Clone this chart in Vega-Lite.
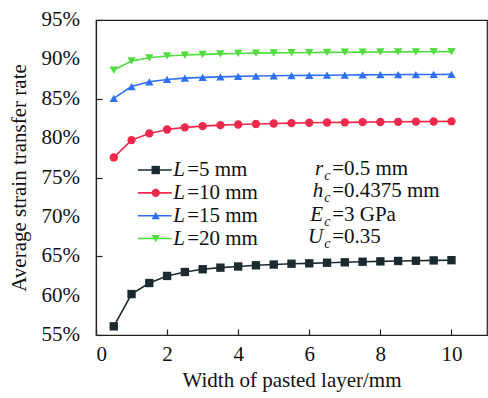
{
  "$schema": "https://vega.github.io/schema/vega-lite/v6.json",
  "width": 391,
  "height": 315,
  "autosize": {"type": "none"},
  "padding": {"left": 96, "top": 20, "right": 1, "bottom": 63},
  "background": "white",
  "config": {
    "font": "Liberation Serif",
    "view": {"stroke": "#222", "strokeWidth": 1.2},
    "axis": {"grid": false, "domainColor": "#222", "domainWidth": 1.2, "tickColor": "#222", "tickWidth": 1.2,
      "labelFont": "Liberation Serif", "titleFont": "Liberation Serif", "labelFontSize": 21, "titleFontSize": 21,
      "labelColor": "#111", "titleColor": "#111", "titleFontWeight": "normal", "labelOverlap": false}
  },
  "datasets": {
    "series": [
      {"series": "L=5 mm", "x": 0.5, "y": 56.1}, {"series": "L=5 mm", "x": 1.0, "y": 60.2}, {"series": "L=5 mm", "x": 1.5, "y": 61.6}, {"series": "L=5 mm", "x": 2.0, "y": 62.5}, {"series": "L=5 mm", "x": 2.5, "y": 63.0}, {"series": "L=5 mm", "x": 3.0, "y": 63.35}, {"series": "L=5 mm", "x": 3.5, "y": 63.55}, {"series": "L=5 mm", "x": 4.0, "y": 63.7}, {"series": "L=5 mm", "x": 4.5, "y": 63.85}, {"series": "L=5 mm", "x": 5.0, "y": 63.95}, {"series": "L=5 mm", "x": 5.5, "y": 64.05}, {"series": "L=5 mm", "x": 6.0, "y": 64.1}, {"series": "L=5 mm", "x": 6.5, "y": 64.18}, {"series": "L=5 mm", "x": 7.0, "y": 64.23}, {"series": "L=5 mm", "x": 7.5, "y": 64.3}, {"series": "L=5 mm", "x": 8.0, "y": 64.35}, {"series": "L=5 mm", "x": 8.5, "y": 64.4}, {"series": "L=5 mm", "x": 9.0, "y": 64.43}, {"series": "L=5 mm", "x": 9.5, "y": 64.47}, {"series": "L=5 mm", "x": 10.0, "y": 64.5},
      {"series": "L=10 mm", "x": 0.5, "y": 77.55}, {"series": "L=10 mm", "x": 1.0, "y": 79.75}, {"series": "L=10 mm", "x": 1.5, "y": 80.6}, {"series": "L=10 mm", "x": 2.0, "y": 81.1}, {"series": "L=10 mm", "x": 2.5, "y": 81.37}, {"series": "L=10 mm", "x": 3.0, "y": 81.52}, {"series": "L=10 mm", "x": 3.5, "y": 81.65}, {"series": "L=10 mm", "x": 4.0, "y": 81.73}, {"series": "L=10 mm", "x": 4.5, "y": 81.8}, {"series": "L=10 mm", "x": 5.0, "y": 81.86}, {"series": "L=10 mm", "x": 5.5, "y": 81.9}, {"series": "L=10 mm", "x": 6.0, "y": 81.95}, {"series": "L=10 mm", "x": 6.5, "y": 81.98}, {"series": "L=10 mm", "x": 7.0, "y": 82.0}, {"series": "L=10 mm", "x": 7.5, "y": 82.03}, {"series": "L=10 mm", "x": 8.0, "y": 82.05}, {"series": "L=10 mm", "x": 8.5, "y": 82.07}, {"series": "L=10 mm", "x": 9.0, "y": 82.09}, {"series": "L=10 mm", "x": 9.5, "y": 82.11}, {"series": "L=10 mm", "x": 10.0, "y": 82.13},
      {"series": "L=15 mm", "x": 0.5, "y": 85.05}, {"series": "L=15 mm", "x": 1.0, "y": 86.55}, {"series": "L=15 mm", "x": 1.5, "y": 87.15}, {"series": "L=15 mm", "x": 2.0, "y": 87.45}, {"series": "L=15 mm", "x": 2.5, "y": 87.62}, {"series": "L=15 mm", "x": 3.0, "y": 87.72}, {"series": "L=15 mm", "x": 3.5, "y": 87.78}, {"series": "L=15 mm", "x": 4.0, "y": 87.84}, {"series": "L=15 mm", "x": 4.5, "y": 87.88}, {"series": "L=15 mm", "x": 5.0, "y": 87.92}, {"series": "L=15 mm", "x": 5.5, "y": 87.95}, {"series": "L=15 mm", "x": 6.0, "y": 87.97}, {"series": "L=15 mm", "x": 6.5, "y": 87.99}, {"series": "L=15 mm", "x": 7.0, "y": 88.01}, {"series": "L=15 mm", "x": 7.5, "y": 88.03}, {"series": "L=15 mm", "x": 8.0, "y": 88.05}, {"series": "L=15 mm", "x": 8.5, "y": 88.06}, {"series": "L=15 mm", "x": 9.0, "y": 88.07}, {"series": "L=15 mm", "x": 9.5, "y": 88.08}, {"series": "L=15 mm", "x": 10.0, "y": 88.1},
      {"series": "L=20 mm", "x": 0.5, "y": 88.65}, {"series": "L=20 mm", "x": 1.0, "y": 89.8}, {"series": "L=20 mm", "x": 1.5, "y": 90.2}, {"series": "L=20 mm", "x": 2.0, "y": 90.43}, {"series": "L=20 mm", "x": 2.5, "y": 90.55}, {"series": "L=20 mm", "x": 3.0, "y": 90.64}, {"series": "L=20 mm", "x": 3.5, "y": 90.7}, {"series": "L=20 mm", "x": 4.0, "y": 90.75}, {"series": "L=20 mm", "x": 4.5, "y": 90.79}, {"series": "L=20 mm", "x": 5.0, "y": 90.82}, {"series": "L=20 mm", "x": 5.5, "y": 90.85}, {"series": "L=20 mm", "x": 6.0, "y": 90.87}, {"series": "L=20 mm", "x": 6.5, "y": 90.89}, {"series": "L=20 mm", "x": 7.0, "y": 90.91}, {"series": "L=20 mm", "x": 7.5, "y": 90.92}, {"series": "L=20 mm", "x": 8.0, "y": 90.94}, {"series": "L=20 mm", "x": 8.5, "y": 90.95}, {"series": "L=20 mm", "x": 9.0, "y": 90.96}, {"series": "L=20 mm", "x": 9.5, "y": 90.97}, {"series": "L=20 mm", "x": 10.0, "y": 90.98}
    ],
    "yticks": [
      {"v": 55, "lab": "55%"}, {"v": 60, "lab": "60%"}, {"v": 65, "lab": "65%"}, {"v": 70, "lab": "70%"}, {"v": 75, "lab": "75%"},
      {"v": 80, "lab": "80%"}, {"v": 85, "lab": "85%"}, {"v": 90, "lab": "90%"}, {"v": 95, "lab": "95%"}
    ],
    "legend": [
      {"series": "L=5 mm", "rest": "=5 mm", "ly": 75.95},
      {"series": "L=10 mm", "rest": "=10 mm", "ly": 73.05},
      {"series": "L=15 mm", "rest": "=15 mm", "ly": 70.15},
      {"series": "L=20 mm", "rest": "=20 mm", "ly": 67.25}
    ],
    "notes": [
      {"letter": "r", "sub": "c", "rest": "=0.5 mm", "ny": 76.08},
      {"letter": "h", "sub": "c", "rest": "=0.4375 mm", "ny": 73.29},
      {"letter": "E", "sub": "c", "rest": "=3 GPa", "ny": 70.28},
      {"letter": "U", "sub": "c", "rest": "=0.35", "ny": 67.44}
    ]
  },
  "layer": [
    {
      "data": {"name": "series"},
      "mark": {"type": "line", "strokeWidth": 1.6},
      "encoding": {
        "x": {"field": "x", "type": "quantitative", "scale": {"domain": [0, 11], "nice": false},
          "axis": {"values": [0, 2, 4, 6, 8, 10], "title": "Width of pasted layer/mm", "tickSize": -6, "labelPadding": 14, "titlePadding": 5, "labelOverlap": false}},
        "y": {"field": "y", "type": "quantitative", "scale": {"domain": [55, 95], "nice": false, "zero": false},
          "axis": {"values": [55, 60, 65, 70, 75, 80, 85, 90, 95], "labels": false, "title": "Average strain transfer rate", "tickSize": -6, "titlePadding": 66}},
        "color": {"field": "series", "type": "nominal", "legend": null,
          "scale": {"domain": ["L=5 mm", "L=10 mm", "L=15 mm", "L=20 mm"], "range": ["#1b2a2f", "#f0284c", "#2e6ff5", "#4fdc3c"]}},
        "detail": {"field": "series"}
      }
    },
    {
      "data": {"name": "series"},
      "mark": {"type": "point", "filled": true, "opacity": 1, "size": 70},
      "encoding": {
        "x": {"field": "x", "type": "quantitative"},
        "y": {"field": "y", "type": "quantitative"},
        "color": {"field": "series", "type": "nominal", "legend": null},
        "shape": {"field": "series", "type": "nominal", "legend": null,
          "scale": {"domain": ["L=5 mm", "L=10 mm", "L=15 mm", "L=20 mm"], "range": ["square", "circle", "triangle-up", "triangle-down"]}}
      }
    },
    {
      "data": {"name": "yticks"},
      "mark": {"type": "text", "fontSize": 21, "align": "right", "baseline": "middle", "color": "#111"},
      "encoding": {
        "x": {"datum": -0.45, "type": "quantitative"},
        "y": {"field": "v", "type": "quantitative"},
        "text": {"field": "lab"}
      }
    },
    {
      "data": {"name": "legend"},
      "mark": {"type": "rule", "strokeWidth": 1.6},
      "encoding": {
        "x": {"datum": 1.18, "type": "quantitative"},
        "x2": {"datum": 2.13},
        "y": {"field": "ly", "type": "quantitative"},
        "color": {"field": "series", "type": "nominal", "legend": null}
      }
    },
    {
      "data": {"name": "legend"},
      "mark": {"type": "point", "filled": true, "opacity": 1, "size": 70},
      "encoding": {
        "x": {"datum": 1.68, "type": "quantitative"},
        "y": {"field": "ly", "type": "quantitative"},
        "color": {"field": "series", "type": "nominal", "legend": null},
        "shape": {"field": "series", "type": "nominal", "legend": null}
      }
    },
    {
      "data": {"name": "legend"},
      "mark": {"type": "text", "text": "L", "fontStyle": "italic", "fontSize": 21, "align": "left", "baseline": "middle", "color": "#111"},
      "encoding": {
        "x": {"datum": 2.17, "type": "quantitative"},
        "y": {"field": "ly", "type": "quantitative"}
      }
    },
    {
      "data": {"name": "legend"},
      "mark": {"type": "text", "fontSize": 21, "align": "left", "baseline": "middle", "dx": 14, "color": "#111"},
      "encoding": {
        "x": {"datum": 2.17, "type": "quantitative"},
        "y": {"field": "ly", "type": "quantitative"},
        "text": {"field": "rest"}
      }
    },
    {
      "data": {"name": "notes"},
      "mark": {"type": "text", "fontStyle": "italic", "fontSize": 21, "align": "right", "baseline": "middle", "color": "#111"},
      "encoding": {
        "x": {"datum": 6.39, "type": "quantitative"},
        "y": {"field": "ny", "type": "quantitative"},
        "text": {"field": "letter"}
      }
    },
    {
      "data": {"name": "notes"},
      "mark": {"type": "text", "fontStyle": "italic", "fontSize": 14, "align": "left", "baseline": "middle", "dy": 7, "dx": 1, "color": "#111"},
      "encoding": {
        "x": {"datum": 6.39, "type": "quantitative"},
        "y": {"field": "ny", "type": "quantitative"},
        "text": {"field": "sub"}
      }
    },
    {
      "data": {"name": "notes"},
      "mark": {"type": "text", "fontSize": 21, "align": "left", "baseline": "middle", "dx": 9, "color": "#111"},
      "encoding": {
        "x": {"datum": 6.39, "type": "quantitative"},
        "y": {"field": "ny", "type": "quantitative"},
        "text": {"field": "rest"}
      }
    }
  ]
}
